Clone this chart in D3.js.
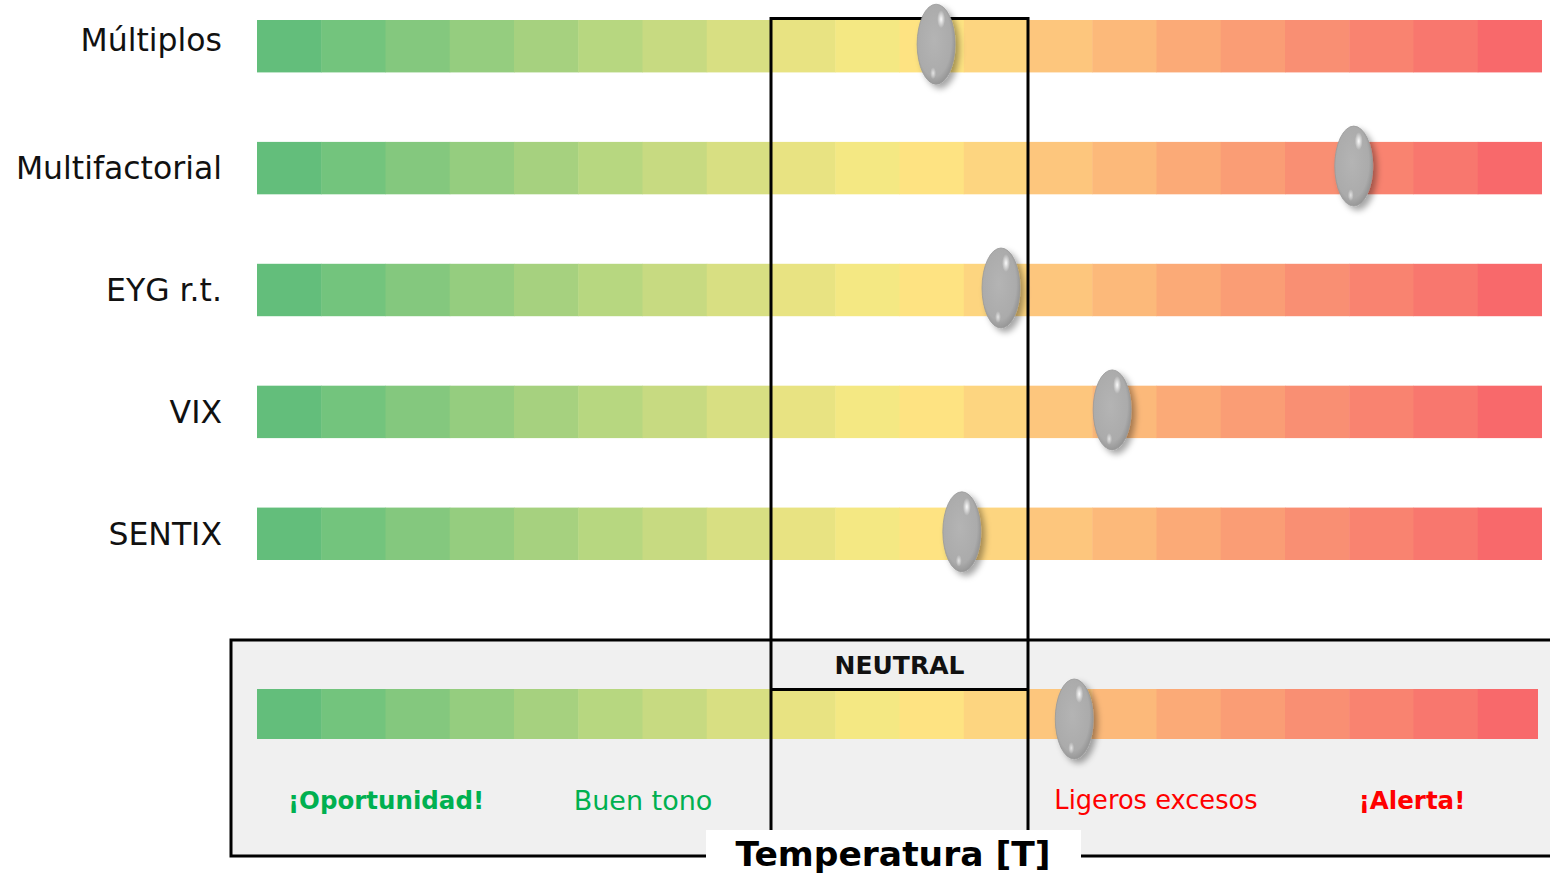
<!DOCTYPE html>
<html><head><meta charset="utf-8">
<script src="https://cdn.jsdelivr.net/npm/d3@7"></script>
<style>html,body{margin:0;padding:0;background:#fff;overflow:hidden}</style>
</head><body>
<svg id="chart" width="1550" height="875"></svg>
<script>
// ---- data ----
const indicators = ["Múltiplos", "Multifactorial", "EYG r.t.", "VIX", "SENTIX"];
const indicatorValues = [10.57, 17.07, 11.58, 13.31, 10.97]; // position on 0–20 temperature scale
const temperatureLabel = "Temperatura [T]";
const temperatureValue = 12.72;
const segmentColors = ["#63BE7B","#73C47D","#84C87E","#95CD7F","#A6D17F","#B7D780","#C7DA81","#D8DF82",
  "#E8E382","#F4E883","#FEE382","#FDD580","#FDC67D","#FCB97A","#FBAA77","#FA9D75","#F98F73","#F98370","#F8776E","#F8696B"];
const neutralRange = [8, 12];
const zoneLabels = ["¡Oportunidad!", "Buen tono", "Ligeros excesos", "¡Alerta!"];

// ---- drawing ----
const svg = d3.select("#chart");
const font = "'DejaVu Sans', sans-serif";
const x = d3.scaleLinear().domain([0, 20]).range([257, 1542]);
const seg = d3.scaleBand().domain(d3.range(20)).range([257, 1542]);
const y = d3.scaleBand().domain(indicators).range([20, 560]).paddingInner(0.57).paddingOuter(0);

const defs = svg.append("defs");
const grad = defs.append("radialGradient").attr("id", "ovalGrad")
  .attr("cx", "0.45").attr("cy", "0.45").attr("r", "0.6");
grad.append("stop").attr("offset", "0%").attr("stop-color", "#B4B4B4");
grad.append("stop").attr("offset", "75%").attr("stop-color", "#ABABAB");
grad.append("stop").attr("offset", "100%").attr("stop-color", "#8E8E8E");
const hl = defs.append("radialGradient").attr("id", "hlGrad");
hl.append("stop").attr("offset", "0%").attr("stop-color", "#fff").attr("stop-opacity", 0.95);
hl.append("stop").attr("offset", "100%").attr("stop-color", "#fff").attr("stop-opacity", 0);
const f = defs.append("filter").attr("id", "shadow").attr("x", "-50%").attr("y", "-50%").attr("width", "200%").attr("height", "200%");
f.append("feDropShadow").attr("dx", 4).attr("dy", 4).attr("stdDeviation", 3).attr("flood-color", "#000").attr("flood-opacity", 0.35);

function drawOval(g, cx, cy) {
  const o = g.append("g").attr("transform", `translate(${cx},${cy})`);
  o.append("ellipse").attr("rx", 19).attr("ry", 40).attr("fill", "url(#ovalGrad)")
    .attr("stroke", "#999").attr("stroke-width", 0.8).attr("filter", "url(#shadow)");
  o.append("ellipse").attr("cx", 5).attr("cy", -25).attr("rx", 4).attr("ry", 9).attr("fill", "url(#hlGrad)");
  o.append("ellipse").attr("cx", -3).attr("cy", 29).attr("rx", 3).attr("ry", 6).attr("fill", "url(#hlGrad)").attr("opacity", 0.7);
}

function drawBar(g, y0, h, xEnd) {
  g.selectAll(null).data(segmentColors).join("rect")
    .attr("x", (d, i) => seg(i))
    .attr("y", y0)
    .attr("width", (d, i) => Math.min(seg.bandwidth(), xEnd - seg(i)) + (i < 19 ? 0.5 : 0))
    .attr("height", h)
    .attr("fill", d => d);
}

// bottom box
const boxTop = 640, boxBottom = 856;
svg.append("rect").attr("x", 231).attr("y", boxTop).attr("width", 1330).attr("height", boxBottom - boxTop)
  .attr("fill", "#F0F0F0").attr("stroke", "#000").attr("stroke-width", 3);

// indicator rows
const rows = svg.append("g");
indicators.forEach((name, i) => {
  const g = rows.append("g");
  drawBar(g, y(name), y.bandwidth(), x(20));
  g.append("text").attr("x", 222).attr("y", y(name) + y.bandwidth() / 2 + (i === 0 ? -6 : 0))
    .attr("text-anchor", "end").attr("dominant-baseline", "central")
    .attr("font-family", font).attr("font-size", 31.5).attr("fill", "#111").text(name);
});

// temperature bar
const tg = svg.append("g");
drawBar(tg, 689, 50, 1538);

// neutral frame
const nx0 = x(neutralRange[0]), nx1 = x(neutralRange[1]);
svg.append("path").attr("d", `M${nx0},840 V18.5 H${nx1} V840`).attr("fill", "none").attr("stroke", "#000").attr("stroke-width", 3);
svg.append("line").attr("x1", nx0).attr("x2", nx1).attr("y1", 689.5).attr("y2", 689.5).attr("stroke", "#000").attr("stroke-width", 3);
svg.append("text").attr("x", (nx0 + nx1) / 2).attr("y", 665).attr("text-anchor", "middle").attr("dominant-baseline", "central")
  .attr("font-family", font).attr("font-weight", "bold").attr("font-size", 25).attr("fill", "#111").text("NEUTRAL");

// markers
indicators.forEach((name, i) => drawOval(svg, x(indicatorValues[i]), y(name) + y.bandwidth() / 2 - 2));
drawOval(svg, x(temperatureValue), 719);

// zone labels
const zoneX = [386, 643, 1156, 1412], zoneCol = ["#00B050", "#00B050", "#FF0000", "#FF0000"], zoneBold = [true, false, false, true];
const zoneSize = [24.5, 27, 25.7, 24.5];
zoneLabels.forEach((t, i) => {
  svg.append("text").attr("x", zoneX[i]).attr("y", 800).attr("text-anchor", "middle").attr("dominant-baseline", "central")
    .attr("font-family", font).attr("font-size", zoneSize[i]).attr("font-weight", zoneBold[i] ? "bold" : "normal")
    .attr("fill", zoneCol[i]).text(t);
});

// title label
svg.append("rect").attr("x", 706).attr("y", 830).attr("width", 375).attr("height", 50).attr("fill", "#fff");
svg.append("text").attr("x", 893).attr("y", 854).attr("text-anchor", "middle").attr("dominant-baseline", "central")
  .attr("font-family", font).attr("font-weight", "bold").attr("font-size", 34.5).attr("fill", "#000").text(temperatureLabel);
</script>
</body></html>
